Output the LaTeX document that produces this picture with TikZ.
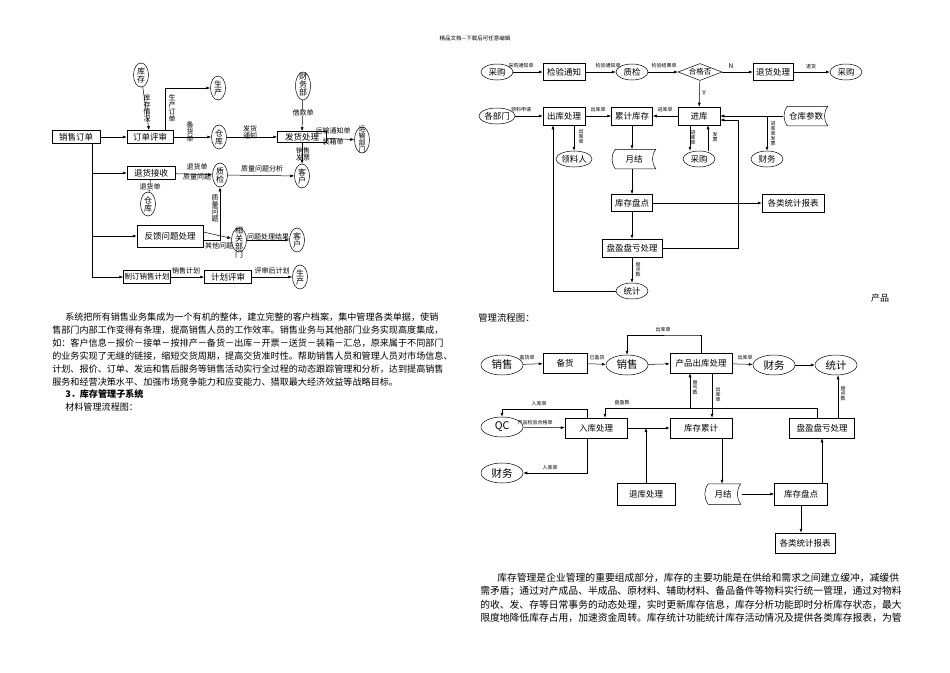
\documentclass[tikz,border=0pt]{standalone}
\usepackage{fontspec}
\setmainfont{Noto Sans CJK SC}
\usetikzlibrary{shapes.geometric,arrows.meta}
\newcommand\fsz[1]{\fontsize{#1}{#1}\selectfont}
\begin{document}
\begin{tikzpicture}[x=1pt,y=-1pt,
  box/.style={draw,rectangle,inner sep=1pt,font=\fsz{8.5}},
  cir/.style={draw,ellipse,inner sep=0pt,minimum width=15,minimum height=24,font=\fsz{8},align=center},
  ell/.style={draw,ellipse,inner sep=0pt,minimum width=32,minimum height=16,font=\fsz{8.5}},
  bell/.style={draw,ellipse,inner sep=0pt,minimum width=42,minimum height=20,font=\fsz{10.5}},
  lbl/.style={font=\fsz{5},inner sep=0pt,align=center},
  llbl/.style={font=\fsz{7},inner sep=0pt,align=center},
  arr/.style={-{Latex[length=4pt,width=3pt]}},
  drum/.style={minimum width=45,minimum height=19,inner sep=0pt,font=\fsz{8.5}},
  body/.style={anchor=west,inner sep=0pt,font=\fsz{9.1}},
  line width=0.5pt]
\useasboundingbox (0,0) rectangle (950,672);
\node[font=\fsz{5.5}] (hdr) at (475,38) {精品文档---下载后可任意编辑};
% ---------------- left diagram
\node[box,minimum width=48,minimum height=13] (xsdd) at (76,137) {销售订单};
\node[cir] (kc1) at (141,75) {库\\存};
\node[box,minimum width=46,minimum height=13] (ddps) at (150,137) {订单评审};
\node[cir] (sc1) at (218,88) {生\\产};
\node[cir] (ck1) at (219,137) {仓\\库};
\node[box,minimum width=49,minimum height=11] (fhcl) at (302,137) {发货处理};
\node[cir,minimum height=28] (cwb) at (303,86) {};
\node[font=\fsz{8},align=center,inner sep=0pt] (cwbt) at (303,84) {财\\务\\部};
\node[cir] (kh1) at (302,176) {客\\户};
\node[cir,minimum height=26] (ysbm) at (362,140) {};
\node[font=\fsz{7},align=center,inner sep=0pt] (ysbmt) at (362,140) {运\\输\\部\\门};
\node[box,minimum width=48,minimum height=13] (thjs) at (151,173) {退货接收};
\node[cir] (zj) at (220,175) {质\\检};
\node[cir] (ck2) at (148,204) {仓\\库};
\node[box,minimum width=66,minimum height=22] (fkwt) at (170,236) {反馈问题处理};
\node[cir,minimum height=24] (xgbm) at (239,240) {};
\node[font=\fsz{8},align=center,inner sep=0pt] (xgbmt) at (239,242) {相\\关\\部\\门};
\node[cir] (kh2) at (297,240) {客\\户};
\node[box,minimum width=41,minimum height=13,font=\fsz{7.5}] (zdjh) at (147,277) {制订销售计划};
\node[box,minimum width=47,minimum height=13] (jhps) at (228,277) {计划评审};
\node[cir] (sc2) at (300,277) {生\\产};
\draw[arr] (xsdd) -- (ddps);
\draw[arr] (kc1) -- (ddps);
\node[llbl] (l1) at (147,108) {库\\存\\情\\况};
\draw[arr] ([xshift=15]ddps.north) |- (sc1);
\node[llbl] (l2) at (172,108) {生\\产\\订\\单};
\draw[arr] (ddps) -- (ck1);
\node[llbl] (l3) at (190,132) {备\\货\\单};
\draw[arr] (ck1) -- (fhcl);
\node[llbl] (l4) at (250,132) {发货\\通知};
\draw[arr] (cwb) -- (fhcl);
\node[llbl,fill=white] (l5) at (303,113) {借款单};
\draw[arr] (fhcl) -- (ysbm);
\node[llbl] (l6) at (333,131) {运输通知单};
\node[llbl] (l7) at (333,142) {装箱单};
\draw[arr] (fhcl) -- (kh1);
\node[llbl] (l8) at (303,154) {销售\\发票};
\coordinate (t0) at (92,143);
\coordinate (t1) at (92,173);
\coordinate (t2) at (92,236);
\coordinate (t3) at (92,277);
\draw (t0) -- (t3);
\draw[arr] (t1) -- (thjs);
\draw[arr] (t2) -- (fkwt);
\draw[arr] (t3) -- (zdjh);
\draw[arr] (thjs) -- (zj);
\node[llbl] (l9) at (197,167) {退货单};
\node[llbl] (l10) at (197,177) {质量问题};
\draw[arr] (thjs) -- (ck2);
\node[llbl,fill=white] (l11) at (150,187) {退货单};
\draw[arr] (zj) -- (kh1);
\node[llbl] (l12) at (262,169) {质量问题分析};
\draw[arr] ([yshift=-4]fkwt.east) -| (zj.south);
\node[llbl,fill=white] (l13) at (215,208) {质\\量\\问\\题};
\draw[arr] ([yshift=4]fkwt.east) -- (xgbm);
\node[llbl] (l14) at (219,246) {其他问题};
\draw[arr] (xgbm) -- (kh2);
\node[llbl] (l15) at (268,237) {问题处理结果};
\draw[arr] (zdjh) -- (jhps);
\node[llbl] (l16) at (186,271) {销售计划};
\draw[arr] (jhps) -- (sc2);
\node[llbl] (l17) at (272,271) {评审后计划};
% ---------------- body text left
\node[body] (p1) at (65,317) {系统把所有销售业务集成为一个有机的整体，建立完整的客户档案，集中管理各类单据，使销};
\node[body] (p2) at (52,330) {售部门内部工作变得有条理，提高销售人员的工作效率。销售业务与其他部门业务实现高度集成，};
\node[body] (p3) at (52,343) {如：客户信息－报价－接单－按排产－备货－出库－开票－送货－装箱－汇总，原来属于不同部门};
\node[body] (p4) at (52,356) {的业务实现了无缝的链接，缩短交货周期，提高交货准时性。帮助销售人员和管理人员对市场信息、};
\node[body] (p5) at (52,369) {计划、报价、订单、发运和售后服务等销售活动实行全过程的动态跟踪管理和分析，达到提高销售};
\node[body] (p6) at (52,382) {服务和经营决策水平、加强市场竞争能力和应变能力、猎取最大经济效益等战略目标。};
\node[body,font=\fsz{9.1}\bfseries] (p7) at (65,394) {3．库存管理子系统};
\node[body] (p8) at (65,407) {材料管理流程图：};
% ---------------- top right diagram
\node[ell] (cg1) at (497,72) {采购};
\node[box,minimum width=42,minimum height=17] (jytz) at (564,72) {检验通知};
\node[ell] (zj2) at (632,72) {质检};
\node[draw,diamond,aspect=2.6,inner sep=0pt,minimum width=44,minimum height=17,font=\fsz{7.5}] (hgf) at (700,72) {合格否};
\node[box,minimum width=40,minimum height=17] (thcl) at (773,72) {退货处理};
\node[ell] (cg2) at (846,72) {采购};
\node[ell] (bbm) at (497,116) {各部门};
\node[box,minimum width=42,minimum height=18] (ckcl) at (564,116) {出库处理};
\node[box,minimum width=41,minimum height=18] (ljkc) at (632,116) {累计库存};
\node[box,minimum width=42,minimum height=18] (jk) at (699,116) {进库};
\node[drum] (ckcs) at (806,116) {仓库参数};
\node[ell] (llr) at (574,159) {领料人};
\node[drum] (yj1) at (634,159) {月结};
\node[ell] (cg3) at (699,159) {采购};
\node[ell] (cw1) at (767,159) {财务};
\node[box,minimum width=41,minimum height=17] (kcpd1) at (632,203) {库存盘点};
\node[box,minimum width=62,minimum height=18] (gltj1) at (793,203) {各类统计报表};
\node[box,minimum width=60,minimum height=18] (pyk1) at (632,248) {盘盈盘亏处理};
\node[ell] (tj1) at (632,291) {统计};
\foreach \d in {ckcs,yj1}{
  \draw ([xshift=4]\d.north west) to[bend right=35] ([xshift=4]\d.south west) -- ([xshift=-1]\d.south east) to[bend left=35] ([xshift=-1]\d.north east) -- cycle;
}
\draw[arr] (cg1) -- (jytz);
\node[lbl] (m1) at (521,66) {采购通知单};
\draw[arr] (jytz) -- (zj2);
\node[lbl] (m2) at (608,66) {检验通知单};
\draw[arr] (zj2) -- (hgf);
\node[lbl] (m3) at (664,66) {检验结果单};
\draw[arr] (hgf) -- (thcl);
\node[font=\fsz{6.5}] (m4) at (731,66) {N};
\draw[arr] (thcl) -- (cg2);
\node[lbl] (m5) at (811,67) {退货};
\draw[arr] (hgf) -- (jk);
\node[font=\fsz{6.5}] (m6) at (704,93) {Y};
\draw[arr] (bbm) -- (ckcl);
\node[lbl] (m7) at (521,110) {领料申请};
\draw[arr] (ckcl) -- (ljkc);
\node[lbl] (m8) at (598,110) {出库单};
\draw[arr] (jk) -- (ljkc);
\node[lbl] (m9) at (665,110) {进库单};
\draw[arr] (ckcs.west) -- (jk.east);
\draw[arr] (ckcs.west -| cw1.north) -- (cw1.north);
\node[lbl] (m10) at (773,134) {进\\库\\单\\发\\票};
\draw[arr] ([xshift=-9]jk.south) -- ([xshift=-9]jk.south |- cg3.north);
\node[lbl] (m11) at (693,138) {进\\库\\单};
\draw[arr] ([xshift=9]jk.south |- cg3.north) -- ([xshift=9]jk.south);
\node[lbl] (m12) at (715,137) {发\\票};
\draw[arr] (llr.north |- ckcl.south) -- (llr.north);
\node[lbl] (m13) at (581,137) {出\\库\\单};
\draw[arr] (ljkc) -- (yj1.north -| ljkc);
\draw[arr] (yj1.south -| kcpd1) -- (kcpd1);
\draw[arr] (kcpd1) -- (pyk1);
\draw[arr] (pyk1) -- (tj1);
\node[lbl] (m14) at (638,270) {盘\\点\\数};
\draw[arr] (kcpd1) -- (gltj1);
\coordinate (pc) at (738,120);
\draw[arr] (pyk1.east) -| (pc) -- (pc -| jk.east);
\draw[arr] (tj1.west) -| ([xshift=-11]ckcl.south);
\node[font=\fsz{9}] (cp) at (880,298) {产品};
\node[anchor=west,inner sep=0pt,font=\fsz{9.4}] (glt) at (478,318) {管理流程图：};
% ---------------- bottom right diagram
\node[bell] (xs1) at (502,365) {销售};
\node[box,minimum width=44,minimum height=20] (bh) at (565,363) {备货};
\node[bell] (xs2) at (627,365) {销售};
\node[box,minimum width=62,minimum height=20] (cpck) at (701,363) {产品出库处理};
\node[bell] (cw2) at (774,365) {财务};
\node[bell] (tj2) at (836,365) {统计};
\node[bell] (qc) at (502,427) {QC};
\node[box,minimum width=62,minimum height=20] (rkcl) at (596,428) {入库处理};
\node[box,minimum width=62,minimum height=20] (kclj) at (701,428) {库存累计};
\node[box,minimum width=65,minimum height=20] (pyk2) at (822,428) {盘盈盘亏处理};
\node[bell] (cw3) at (502,473) {财务};
\node[box,minimum width=58,minimum height=22] (tkcl) at (646,494) {退库处理};
\node[drum,minimum width=37,minimum height=20] (yj2) at (723,494) {月结};
\draw ([xshift=4]yj2.north west) to[bend right=35] ([xshift=4]yj2.south west) -- ([xshift=-1]yj2.south east) to[bend left=35] ([xshift=-1]yj2.north east) -- cycle;
\node[box,minimum width=53,minimum height=22] (kcpd2) at (801,494) {库存盘点};
\node[box,minimum width=60,minimum height=20] (gltj2) at (805,543) {各类统计报表};
\draw[arr] (xs1) -- (bh);
\node[lbl] (n1) at (527,358) {备货单};
\draw[arr] (bh) -- (xs2);
\node[lbl] (n2) at (597,358) {已备货};
\draw[arr] (xs2) -- (cpck);
\draw[arr] (cpck) -- (cw2);
\node[lbl] (n3) at (745,358) {出库单};
\draw[arr] (cw2) -- (tj2);
\coordinate (ta) at (700,335);
\draw[arr] (ta -| cpck.north) -- (ta) -| (xs2.north);
\draw (cpck.north) -- (ta -| cpck.north);
\node[lbl] (n4) at (663,330) {出库单};
\draw[arr] ([xshift=11]cpck.south) -- ([xshift=11]kclj.north);
\node[lbl] (n5) at (718,395) {出\\库\\单};
\coordinate (tb) at (817,408);
\draw[arr] (pyk2.north -| tb) -- (tb) -| (rkcl.north -| 605,0);
\node[lbl] (n6) at (622,403) {盘盈数};
\draw[arr] (tb -| 690,0) -- ([xshift=-11]cpck.south);
\node[lbl] (n7) at (695,388) {盘\\亏\\数};
\draw[arr] ([xshift=16]pyk2.north) -- (tj2.south -| 838,0);
\node[lbl] (n8) at (843,394) {盘\\点\\数};
\coordinate (tc) at (587,409);
\draw[arr] (rkcl.north -| tc) -- (tc) -| (qc.north);
\node[lbl] (n9) at (539,404) {入库单};
\draw[arr] (qc) -- (rkcl);
\node[lbl] (n10) at (535,423) {产品检验合格单};
\draw[arr] (rkcl.south -| tc) |- (cw3.east);
\node[lbl] (n11) at (550,468) {入库单};
\draw[arr] (rkcl) -- (kclj);
\draw[arr] (tkcl.north) -- (tkcl.north |- rkcl.east);
\draw[arr] (kclj.south -| 722,0) -- (yj2.north -| 722,0);
\draw[arr] (yj2) -- (kcpd2);
\draw[arr] (kcpd2.north -| pyk2) -- (pyk2.south);
\draw[arr] (kcpd2) -- (gltj2.north -| kcpd2);
% ---------------- body text right
\node[body,font=\fsz{9.8}] (q1) at (497,578) {库存管理是企业管理的重要组成部分，库存的主要功能是在供给和需求之间建立缓冲，减缓供};
\node[body,font=\fsz{9.8}] (q2) at (480,591) {需矛盾；通过对产成品、半成品、原材料、辅助材料、备品备件等物料实行统一管理，通过对物料};
\node[body,font=\fsz{9.8}] (q3) at (480,605) {的收、发、存等日常事务的动态处理，实时更新库存信息，库存分析功能即时分析库存状态，最大};
\node[body,font=\fsz{9.8}] (q4) at (480,618) {限度地降低库存占用，加速资金周转。库存统计功能统计库存活动情况及提供各类库存报表，为管};
\end{tikzpicture}
\end{document}
